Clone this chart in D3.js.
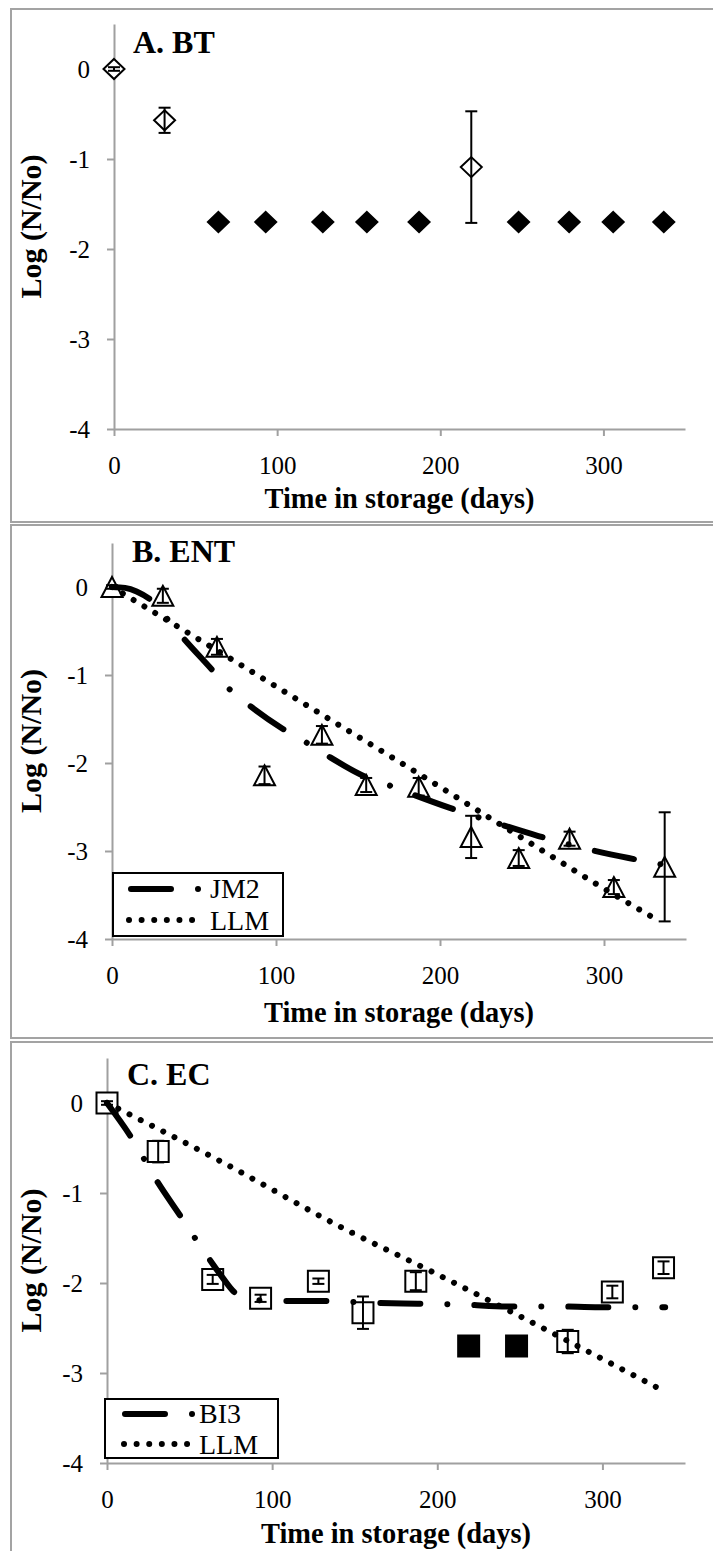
<!DOCTYPE html>
<html lang="en">
<head>
<meta charset="UTF-8">
<title>Survival in storage</title>
<script src="https://d3js.org/d3.v7.min.js"></script>
<style>
  body { margin: 0; background: #fff; }
  svg { display: block; }
  text { font-family: "Liberation Serif", "Times New Roman", serif; }
</style>
</head>
<body>
<div id="main"></div>
<script>
// sampling days (shared by all three panels)
var days = [0, 31, 64, 93, 128, 155, 187, 219, 248, 279, 306, 337];
var xTicks = [0, 100, 200, 300];
var yTicks = [0, -1, -2, -3, -4];

// A. BT
var btValues = [0, -0.57, -1.70, -1.70, -1.70, -1.70, -1.70, -1.09, -1.70, -1.70, -1.70, -1.70];
var btErrors = [0.02, 0.14, 0, 0, 0, 0, 0, 0.62, 0, 0, 0, 0];
var btBelowLimit = [false, false, true, true, true, true, true, false, true, true, true, true];

// B. ENT
var entValues = [0, -0.10, -0.68, -2.14, -1.68, -2.25, -2.27, -2.84, -3.08, -2.86, -3.41, -3.18];
var entErrors = [0.02, 0.08, 0.09, 0.1, 0.1, 0.08, 0.1, 0.24, 0.09, 0.08, 0.08, 0.62];
var entJm2Days = [0, 8, 15, 25, 34, 43, 61, 71, 82, 104, 117, 129, 155, 167, 181, 206, 234, 260, 288, 315, 329, 337];
var entJm2Values = [0, -0.01, -0.05, -0.17, -0.37, -0.57, -0.94, -1.15, -1.32, -1.61, -1.75, -1.89, -2.16, -2.24, -2.34, -2.51, -2.68, -2.83, -2.97, -3.08, -3.13, -3.16];
var entLlmDays = [0, 64, 128, 186, 230, 262, 294, 334];
var entLlmValues = [0, -0.72, -1.45, -2.11, -2.62, -2.99, -3.36, -3.80];

// C. EC
var ecValues = [0, -0.54, -1.96, -2.17, -1.98, -2.33, -1.98, -2.70, -2.70, -2.65, -2.10, -1.83];
var ecErrors = [0.02, 0.12, 0.05, 0.04, 0.03, 0.18, 0.1, 0, 0, 0.13, 0.07, 0.07];
var ecBelowLimit = [false, false, false, false, false, false, false, true, true, false, false, false];
var ecBi3Days = [0, 15, 30, 45, 61, 70, 77, 83, 90, 104, 131, 161, 188, 216, 242, 272, 298, 338];
var ecBi3Values = [0, -0.39, -0.86, -1.27, -1.71, -1.94, -2.10, -2.16, -2.19, -2.20, -2.20, -2.22, -2.23, -2.24, -2.26, -2.26, -2.27, -2.27];
var ecLlmDays = [0, 67, 146, 193, 233, 334];
var ecLlmValues = [0, -0.63, -1.42, -1.84, -2.21, -3.17];

var width = 713, height = 1551;
var boxColor = '#a3a3a3', axisColor = '#a0a0a0';
var serif = '"Liberation Serif", "Times New Roman", serif';

var svg = d3.select('#main').append('svg')
    .attr('width', width)
    .attr('height', height)
    .attr('viewBox', `0 0 ${width} ${height}`)
    .attr('font-family', serif);

// marker shapes (relative to the point)
var shapes = {
  diamond: 'M0,-10L10.5,0L0,10L-10.5,0Z',
  triangle: 'M0,-10L10.5,10L-10.5,10Z',
  square: 'M-10.5,-10.5h21v21h-21Z'
};
var dashDot = '40,27,0.01,27';
var dotted = '0.01,12.6';

var panels = [
  {title: 'A. BT', box: [11, 9, 716, 522], xr: [114, 685], yr: [429, 24], titleX: 133, titleY: 53, xTitleY: 508,
   values: btValues, errors: btErrors, filled: btBelowLimit, shape: 'diamond', fits: [], legend: null},
  {title: 'B. ENT', box: [11, 525, 716, 1038], xr: [112, 686], yr: [939, 543], titleX: 132, titleY: 562, xTitleY: 1022,
   values: entValues, errors: entErrors, filled: days.map(() => false), shape: 'triangle',
   fits: [{name: 'JM2', days: entJm2Days, values: entJm2Values, dash: dashDot},
          {name: 'LLM', days: entLlmDays, values: entLlmValues, dash: dotted}],
   legend: {x: 113, y: 873, w: 170, h: 63, textX: 210, row1: 889, row2: 920, lineX: 131, dotX: 129}},
  {title: 'C. EC', box: [11, 1042, 716, 1580], xr: [107, 685], yr: [1463, 1058], titleX: 127, titleY: 1085, xTitleY: 1543,
   values: ecValues, errors: ecErrors, filled: ecBelowLimit, shape: 'square',
   fits: [{name: 'BI3', days: ecBi3Days, values: ecBi3Values, dash: dashDot},
          {name: 'LLM', days: ecLlmDays, values: ecLlmValues, dash: dotted}],
   legend: {x: 105, y: 1399, w: 173, h: 59, textX: 199, row1: 1414, row2: 1444, lineX: 125, dotX: 124}}
];

panels.forEach(function(p) {
  var g = svg.append('g');

  // panel frame
  g.append('rect')
    .attr('x', p.box[0]).attr('y', p.box[1])
    .attr('width', p.box[2] - p.box[0]).attr('height', p.box[3] - p.box[1])
    .attr('fill', 'none').attr('stroke', boxColor).attr('stroke-width', 2);

  var x = d3.scaleLinear().domain([0, 350]).range(p.xr);
  var y = d3.scaleLinear().domain([-4, 0.5]).range(p.yr);

  var xAxis = g.append('g')
    .attr('transform', `translate(0,${y(-4)})`)
    .call(d3.axisBottom(x).tickValues(xTicks).tickSize(7).tickSizeOuter(0).tickPadding(20));
  var yAxis = g.append('g')
    .attr('transform', `translate(${x(0)},0)`)
    .call(d3.axisLeft(y).tickValues(yTicks).tickSize(7).tickSizeOuter(0).tickPadding(17).tickFormat(d3.format('d')));

  [xAxis, yAxis].forEach(function(a) {
    a.attr('font-family', serif).attr('font-size', 25);
    a.select('.domain').attr('stroke', axisColor).attr('stroke-width', 2);
    a.selectAll('.tick line').attr('stroke', axisColor).attr('stroke-width', 2);
    a.selectAll('.tick text').attr('fill', '#000').style('font-family', serif);
  });
  // plain hyphen like the original
  yAxis.selectAll('.tick text').text(d => d === 0 ? '0' : '-' + Math.abs(d));

  // titles
  g.append('text').attr('x', p.titleX).attr('y', p.titleY)
    .attr('font-size', 32).attr('font-weight', 'bold').text(p.title);
  g.append('text')
    .attr('x', (p.xr[0] + p.xr[1]) / 2).attr('y', p.xTitleY)
    .attr('text-anchor', 'middle').attr('font-size', 29).attr('font-weight', 'bold')
    .attr('textLength', 270).attr('lengthAdjust', 'spacingAndGlyphs')
    .text('Time in storage (days)');
  var yMid = (p.yr[0] + p.yr[1]) / 2;
  g.append('text')
    .attr('transform', `translate(41,${yMid}) rotate(-90)`)
    .attr('text-anchor', 'middle').attr('font-size', 29).attr('font-weight', 'bold')
    .attr('textLength', 144).attr('lengthAdjust', 'spacingAndGlyphs')
    .text('Log (N/No)');

  var pts = days.map((d, i) => ({day: d, v: p.values[i], e: p.errors[i], filled: p.filled[i]}));

  // markers
  g.selectAll('path.marker').data(pts).enter().append('path')
    .attr('class', 'marker')
    .attr('d', shapes[p.shape])
    .attr('transform', d => `translate(${x(d.day)},${y(d.v)})`)
    .attr('fill', d => d.filled ? '#000' : '#fff')
    .attr('stroke', '#000').attr('stroke-width', 2);

  // error bars
  var eb = g.selectAll('g.err').data(pts.filter(d => d.e > 0)).enter().append('g')
    .attr('class', 'err').attr('stroke', '#000').attr('stroke-width', 2);
  eb.append('line')
    .attr('x1', d => x(d.day)).attr('x2', d => x(d.day))
    .attr('y1', d => y(d.v + d.e)).attr('y2', d => y(d.v - d.e));
  eb.append('line')
    .attr('x1', d => x(d.day) - 6).attr('x2', d => x(d.day) + 6)
    .attr('y1', d => y(d.v + d.e)).attr('y2', d => y(d.v + d.e));
  eb.append('line')
    .attr('x1', d => x(d.day) - 6).attr('x2', d => x(d.day) + 6)
    .attr('y1', d => y(d.v - d.e)).attr('y2', d => y(d.v - d.e));

  // model fits
  var line = d3.line().x(d => x(d[0])).y(d => y(d[1])).curve(d3.curveMonotoneX);
  p.fits.forEach(function(f) {
    g.append('path')
      .attr('d', line(d3.zip(f.days, f.values)))
      .attr('fill', 'none').attr('stroke', '#000').attr('stroke-width', 6)
      .attr('stroke-linecap', 'round').attr('stroke-dasharray', f.dash);
  });

  // legend
  if (p.legend) {
    var L = p.legend;
    var lg = g.append('g');
    lg.append('rect').attr('x', L.x).attr('y', L.y).attr('width', L.w).attr('height', L.h)
      .attr('fill', '#fff').attr('stroke', '#000').attr('stroke-width', 2);
    lg.append('path').attr('d', `M${L.lineX},${L.row1}H${L.lineX + 68}`)
      .attr('stroke', '#000').attr('stroke-width', 6).attr('stroke-linecap', 'round')
      .attr('stroke-dasharray', p.fits[0].dash);
    lg.append('path').attr('d', `M${L.dotX},${L.row2}H${L.dotX + 64}`)
      .attr('stroke', '#000').attr('stroke-width', 6).attr('stroke-linecap', 'round')
      .attr('stroke-dasharray', p.fits[1].dash);
    lg.append('text').attr('x', L.textX).attr('y', L.row1 + 9).attr('font-size', 28).text(p.fits[0].name);
    lg.append('text').attr('x', L.textX).attr('y', L.row2 + 10).attr('font-size', 28).text(p.fits[1].name);
  }
});
</script>
</body>
</html>
